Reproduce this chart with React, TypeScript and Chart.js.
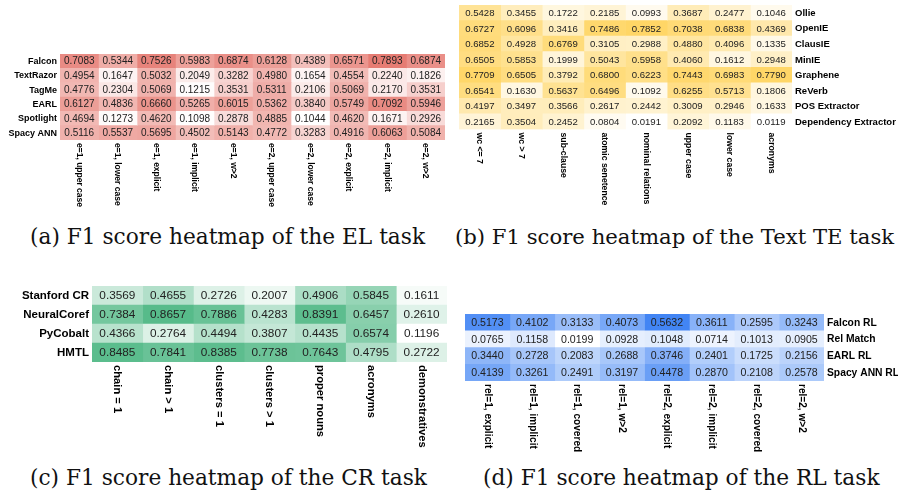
import React, { useEffect, useRef } from "react";
import { Chart, registerables } from "chart.js";
Chart.register(...registerables);

// ---------- (a) EL task ----------
const elRows = ["Falcon", "TextRazor", "TagMe", "EARL", "Spotlight", "Spacy ANN"];
const elCols = ["e=1, upper case", "e=1, lower case", "e=1, explicit", "e=1, implicit", "e=1, w>2", "e=2, upper case", "e=2, lower case", "e=2, explicit", "e=2, implicit", "e=2, w>2"];
const elFalcon = [0.7083, 0.5344, 0.7526, 0.5983, 0.6874, 0.6128, 0.4389, 0.6571, 0.7893, 0.6874];
const elTextRazor = [0.4954, 0.1647, 0.5032, 0.2049, 0.3282, 0.4980, 0.1654, 0.4554, 0.2240, 0.1826];
const elTagMe = [0.4776, 0.2304, 0.5069, 0.1215, 0.3531, 0.5311, 0.2106, 0.5069, 0.2170, 0.3531];
const elEARL = [0.6127, 0.4836, 0.6660, 0.5265, 0.6015, 0.5362, 0.3840, 0.5749, 0.7092, 0.5946];
const elSpotlight = [0.4694, 0.1273, 0.4620, 0.1098, 0.2878, 0.4885, 0.1044, 0.4620, 0.1671, 0.2926];
const elSpacy = [0.5116, 0.5537, 0.5695, 0.4502, 0.5143, 0.4772, 0.3283, 0.4916, 0.6063, 0.5084];

// ---------- (b) Text TE task ----------
const teRows = ["Ollie", "OpenIE", "ClausIE", "MinIE", "Graphene", "ReVerb", "POS Extractor", "Dependency Extractor"];
const teCols = ["wc <= 7", "wc > 7", "sub-clause", "atomic senetence", "nominal relations", "upper case", "lower case", "acronyms"];
const teOllie = [0.5428, 0.3455, 0.1722, 0.2185, 0.0993, 0.3687, 0.2477, 0.1046];
const teOpenIE = [0.6727, 0.6096, 0.3416, 0.7486, 0.7852, 0.7038, 0.6838, 0.4369];
const teClausIE = [0.6852, 0.4928, 0.6769, 0.3105, 0.2988, 0.4880, 0.4096, 0.1335];
const teMinIE = [0.6505, 0.5853, 0.1999, 0.5043, 0.5958, 0.4060, 0.1612, 0.2948];
const teGraphene = [0.7709, 0.6505, 0.3792, 0.6800, 0.6223, 0.7443, 0.6983, 0.7790];
const teReVerb = [0.6541, 0.1630, 0.5637, 0.6496, 0.1092, 0.6255, 0.5713, 0.1806];
const tePOS = [0.4197, 0.3497, 0.3566, 0.2617, 0.2442, 0.3009, 0.2946, 0.1633];
const teDep = [0.2165, 0.3504, 0.2452, 0.0804, 0.0191, 0.2092, 0.1183, 0.0119];

// ---------- (c) CR task ----------
const crRows = ["Stanford CR", "NeuralCoref", "PyCobalt", "HMTL"];
const crCols = ["chain = 1", "chain > 1", "clusters = 1", "clusters > 1", "proper nouns", "acronyms", "demonstratives"];
const crStanford = [0.3569, 0.4655, 0.2726, 0.2007, 0.4906, 0.5845, 0.1611];
const crNeural = [0.7384, 0.8657, 0.7886, 0.4283, 0.8391, 0.6457, 0.2610];
const crPyCobalt = [0.4366, 0.2764, 0.4494, 0.3807, 0.4435, 0.6574, 0.1196];
const crHMTL = [0.8485, 0.7841, 0.8385, 0.7738, 0.7643, 0.4795, 0.2722];

// ---------- (d) RL task ----------
const rlRows = ["Falcon RL", "Rel Match", "EARL RL", "Spacy ANN RL"];
const rlCols = ["rel=1, explicit", "rel=1, implicit", "rel=1, covered", "rel=1, w>2", "rel=2, explicit", "rel=2, implicit", "rel=2, covered", "rel=2, w>2"];
const rlFalcon = [0.5173, 0.4102, 0.3133, 0.4073, 0.5632, 0.3611, 0.2595, 0.3243];
const rlRelMatch = [0.0765, 0.1158, 0.0199, 0.0928, 0.1048, 0.0714, 0.1013, 0.0905];
const rlEARL = [0.3440, 0.2728, 0.2083, 0.2688, 0.3746, 0.2401, 0.1725, 0.2156];
const rlSpacy = [0.4139, 0.3261, 0.2491, 0.3197, 0.4478, 0.2870, 0.2108, 0.2578];

type Box = { left: number; top: number; width: number; height: number };
type Area = { left: number; top: number; right: number; bottom: number };
type Props = {
  box: Box;
  area: Area;
  rows: string[];
  cols: string[];
  values: number[][];
  maxColor: [number, number, number];
  side: "left" | "right";
  valueFont: number;
  rowFont: number;
  colFont: number;
};

const SANS = "'Liberation Sans', Arial, sans-serif";

function Heatmap(props: Props) {
  const ref = useRef<HTMLCanvasElement>(null);
  useEffect(() => {
    const { box, area, rows, cols, values, maxColor, side, valueFont, rowFont, colFont } = props;
    const flat = values.flat();
    const mn = Math.min(...flat);
    const mx = Math.max(...flat);
    const colorFor = (v: number) => {
      const t = (v - mn) / (mx - mn);
      const c = maxColor.map((m) => Math.round(255 + (m - 255) * t));
      return `rgb(${c[0]},${c[1]},${c[2]})`;
    };
    const textPlugin = {
      id: "hmText",
      afterDatasetsDraw(chart: any) {
        const ctx = chart.ctx as CanvasRenderingContext2D;
        const ca = chart.chartArea;
        const xs = chart.scales.x;
        const ys = chart.scales.y;
        ctx.save();
        // cell values
        ctx.fillStyle = "#222";
        ctx.font = `${valueFont}px ${SANS}`;
        ctx.textAlign = "center";
        ctx.textBaseline = "middle";
        chart.data.datasets.forEach((_: any, j: number) => {
          const meta = chart.getDatasetMeta(j);
          meta.data.forEach((el: any, i: number) => {
            const p = el.getCenterPoint();
            ctx.fillText(values[i][j].toFixed(4), p.x, p.y + 0.5);
          });
        });
        // row labels
        ctx.fillStyle = "#000";
        ctx.font = `bold ${rowFont}px ${SANS}`;
        ctx.textAlign = side === "left" ? "right" : "left";
        rows.forEach((r, i) => {
          const y = ys.getPixelForValue(i);
          const x = side === "left" ? ca.left - 3 : ca.right + 3;
          ctx.fillText(r, x, y + 0.5);
        });
        // column labels (rotated clockwise, reading downward)
        ctx.font = `bold ${colFont}px ${SANS}`;
        ctx.textAlign = "left";
        ctx.textBaseline = "middle";
        cols.forEach((c, j) => {
          const x = xs.getPixelForValue(j + 0.5);
          ctx.save();
          ctx.translate(x, ca.bottom + 3);
          ctx.rotate(Math.PI / 2);
          ctx.fillText(c, 0, 0);
          ctx.restore();
        });
        ctx.restore();
      },
    };
    const chart = new Chart(ref.current as HTMLCanvasElement, {
      type: "bar",
      data: {
        labels: rows,
        datasets: cols.map((c, j) => ({
          label: c,
          data: rows.map(() => [j, j + 1]) as any,
          backgroundColor: rows.map((_, i) => colorFor(values[i][j])),
          borderWidth: 0,
          grouped: false,
          categoryPercentage: 1,
          barPercentage: 1,
        })),
      },
      options: {
        indexAxis: "y",
        responsive: false,
        animation: false,
        layout: {
          padding: {
            left: area.left - box.left,
            right: box.left + box.width - area.right,
            top: area.top - box.top,
            bottom: box.top + box.height - area.bottom,
          },
        },
        scales: {
          x: { type: "linear", min: 0, max: cols.length, display: false },
          y: { type: "category", display: false, offset: true },
        },
        plugins: { legend: { display: false }, tooltip: { enabled: false } },
      },
      plugins: [textPlugin],
    });
    return () => chart.destroy();
  }, []);
  const { box } = props;
  return (
    <canvas
      ref={ref}
      width={box.width}
      height={box.height}
      style={{ position: "absolute", left: box.left, top: box.top, width: box.width, height: box.height }}
    />
  );
}

const captionStyle = (left: number, top: number, size: number): React.CSSProperties => ({
  position: "absolute",
  left,
  top,
  fontFamily: "'DejaVu Serif', serif",
  fontSize: size,
  lineHeight: "26px",
  whiteSpace: "nowrap",
  color: "#111",
});

export default function App() {
  return (
    <div style={{ position: "absolute", left: 0, top: 0, width: 898, height: 498, background: "#fff", overflow: "hidden" }}>
      <Heatmap
        box={{ left: 0, top: 40, width: 450, height: 180 }}
        area={{ left: 60, top: 54, right: 445, bottom: 140 }}
        rows={elRows}
        cols={elCols}
        values={[elFalcon, elTextRazor, elTagMe, elEARL, elSpotlight, elSpacy]}
        maxColor={[230, 124, 115]}
        side="left"
        valueFont={10}
        rowFont={9}
        colFont={8.5}
      />
      <Heatmap
        box={{ left: 450, top: 0, width: 448, height: 215 }}
        area={{ left: 459, top: 5, right: 792, bottom: 129.5 }}
        rows={teRows}
        cols={teCols}
        values={[teOllie, teOpenIE, teClausIE, teMinIE, teGraphene, teReVerb, tePOS, teDep]}
        maxColor={[255, 214, 102]}
        side="right"
        valueFont={9.6}
        rowFont={9.5}
        colFont={8.7}
      />
      <Heatmap
        box={{ left: 0, top: 260, width: 450, height: 200 }}
        area={{ left: 92, top: 286, right: 447, bottom: 362 }}
        rows={crRows}
        cols={crCols}
        values={[crStanford, crNeural, crPyCobalt, crHMTL]}
        maxColor={[87, 187, 138]}
        side="left"
        valueFont={11.8}
        rowFont={11.5}
        colFont={11.2}
      />
      <Heatmap
        box={{ left: 450, top: 300, width: 448, height: 160 }}
        area={{ left: 465, top: 314, right: 824, bottom: 381 }}
        rows={rlRows}
        cols={rlCols}
        values={[rlFalcon, rlRelMatch, rlEARL, rlSpacy]}
        maxColor={[66, 133, 244]}
        side="right"
        valueFont={10.6}
        rowFont={10.3}
        colFont={10.1}
      />
      <div style={captionStyle(30, 224, 21.7)}>(a) F1 score heatmap of the EL task</div>
      <div style={captionStyle(455, 224, 21.2)}>(b) F1 score heatmap of the Text TE task</div>
      <div style={captionStyle(30, 465, 21.7)}>(c) F1 score heatmap of the CR task</div>
      <div style={captionStyle(483, 465, 21.7)}>(d) F1 score heatmap of the RL task</div>
    </div>
  );
}
